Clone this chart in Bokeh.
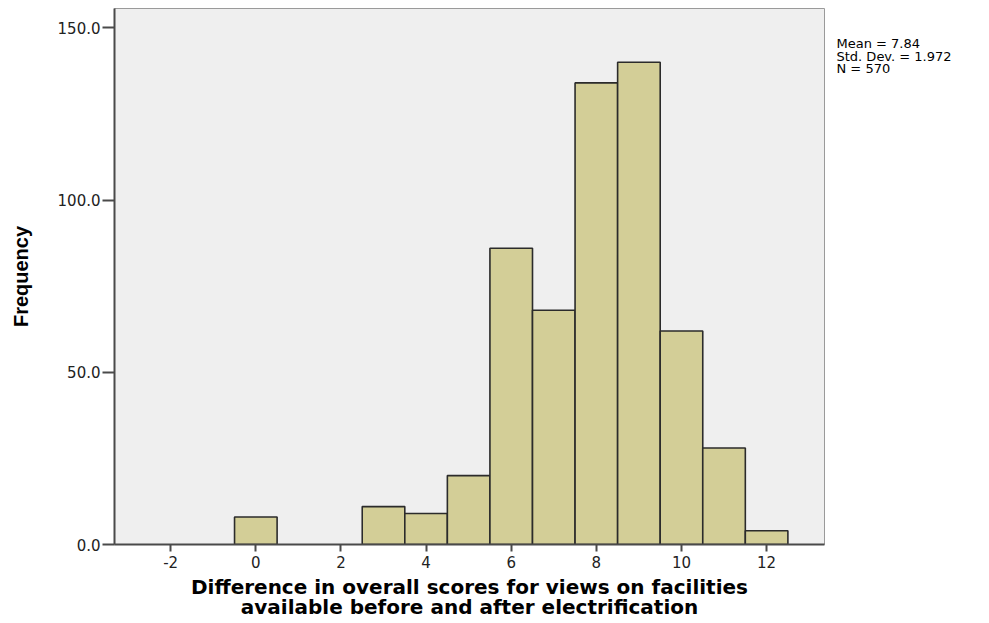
from bokeh.plotting import figure
from bokeh.layouts import row
from bokeh.models import Range1d, FixedTicker, NumeralTickFormatter, ColumnDataSource
from bokeh.core.properties import value
from bokeh.embed import file_html
from bokeh.resources import INLINE

# Histogram of score differences (bin centres and counts)
score_diff = [0, 3, 4, 5, 6, 7, 8, 9, 10, 11, 12]
frequency = [8, 11, 9, 20, 86, 68, 134, 140, 62, 28, 4]
x_ticks = [-2, 0, 2, 4, 6, 8, 10, 12]
y_ticks = [0, 50, 100, 150]
stats_lines = ["Mean = 7.84", "Std. Dev. = 1.972", "N = 570"]
x_title = ["Difference in overall scores for views on facilities",
           "available before and after electrification"]

W, H = 989, 623
MAIN_W = 825          # histogram panel, the rest holds the summary box
SIDE_W = W - MAIN_W
L, T, B = 114, 8, 79
x0, x1 = -3.32, 13.36
y0, y1 = 0, 155.6

src = ColumnDataSource(dict(
    left=[v - 0.5 for v in score_diff],
    right=[v + 0.5 for v in score_diff],
    top=frequency,
    bottom=[0] * len(frequency),
))

p = figure(width=MAIN_W, height=H, x_range=Range1d(x0, x1), y_range=Range1d(y0, y1),
           output_backend="svg", toolbar_location=None,
           min_border_left=L, min_border_right=1, min_border_top=T, min_border_bottom=B)

p.background_fill_color = "#efefef"
p.border_fill_color = "white"
p.outline_line_color = "#9a9a9a"
p.outline_line_width = 1
p.grid.visible = False

p.quad(left="left", right="right", top="top", bottom="bottom", source=src,
       fill_color="#d3ce97", line_color="#2b2b2b", line_width=1.6)

p.xaxis.ticker = FixedTicker(ticks=x_ticks)
p.xaxis.major_label_overrides = {t: str(t) for t in x_ticks}
p.yaxis.ticker = FixedTicker(ticks=y_ticks)
p.yaxis.formatter = NumeralTickFormatter(format="0.0")
for ax in (p.xaxis, p.yaxis):
    ax.axis_line_color = "#4a4a4a"
    ax.axis_line_width = 2
    ax.major_tick_line_color = "#4a4a4a"
    ax.major_tick_line_width = 2
    ax.major_tick_in = 0
    ax.minor_tick_line_color = None
    ax.major_label_text_font = "DejaVu Sans"
    ax.major_label_text_font_size = "15px"
    ax.major_label_text_color = "#222222"
p.xaxis.major_tick_out = 7
p.yaxis.major_tick_out = 12
p.xaxis.major_label_standoff = 4
p.yaxis.major_label_standoff = 2

p.yaxis.axis_label = "Frequency"
p.yaxis.axis_label_text_font = "Liberation Sans"
p.yaxis.axis_label_text_font_style = "bold"
p.yaxis.axis_label_text_font_size = "20px"
p.yaxis.axis_label_text_color = "black"
p.yaxis.axis_label_standoff = 23

# two-line x-axis title, centred under the frame
p.xaxis.axis_label = "\n".join(x_title)
p.xaxis.axis_label_text_font = "DejaVu Sans"
p.xaxis.axis_label_text_font_style = "bold"
p.xaxis.axis_label_text_font_size = "20px"
p.xaxis.axis_label_text_line_height = 0.86
p.xaxis.axis_label_text_color = "black"
p.xaxis.axis_label_standoff = 4

# summary statistics panel to the right, in pixel coordinates from its top-left
side = figure(frame_width=SIDE_W, frame_height=H,
              x_range=Range1d(0, SIDE_W), y_range=Range1d(H, 0),
              output_backend="svg", toolbar_location=None, x_axis_type=None, y_axis_type=None,
              min_border=0, min_border_left=0, min_border_right=0,
              min_border_top=0, min_border_bottom=0)
side.outline_line_color = None
side.background_fill_color = "white"
side.border_fill_color = "white"
side.grid.visible = False
stats_src = ColumnDataSource(dict(x=[11] * len(stats_lines),
                                  y=[35 + 12.5 * i for i in range(len(stats_lines))],
                                  text=stats_lines))
side.text(x="x", y="y", text="text", source=stats_src, text_align="left",
          text_baseline="alphabetic", text_font=value("DejaVu Sans"),
          text_font_size="13px", text_color="black")

layout = row(p, side, spacing=0)
open("out.html", "w").write(file_html(layout, INLINE))
